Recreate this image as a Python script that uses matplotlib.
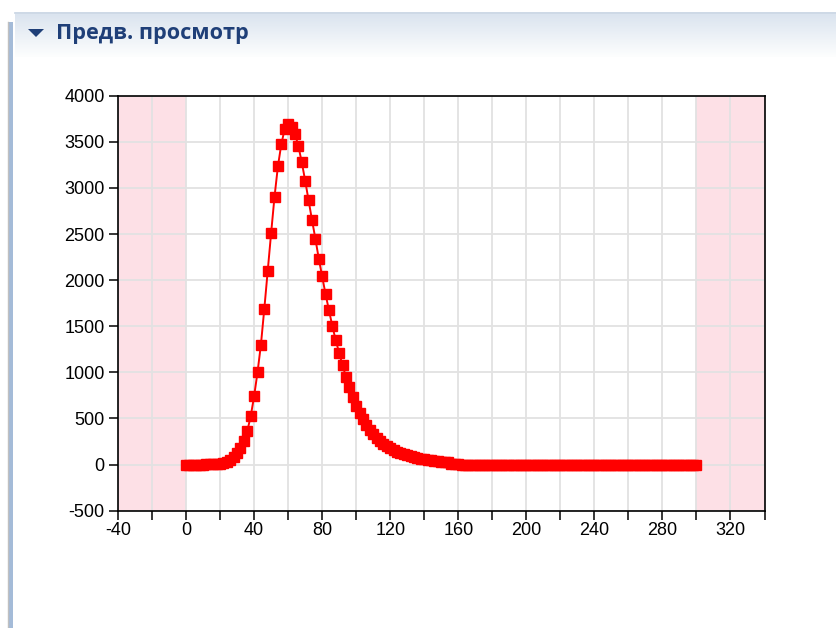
import numpy as np
import matplotlib
matplotlib.use("Agg")
import matplotlib.pyplot as plt
from matplotlib.colors import LinearSegmentedColormap
from matplotlib.lines import Line2D
from matplotlib.patches import Polygon, Rectangle

# data (one point every 2 units, 0..300)
x_vals = np.arange(0, 302, 2)
y_vals = [
    0, 0, 0, 0, 0, 0, 1, 2, 4, 6,
    10, 18, 32, 52, 82, 122, 178, 255, 365, 524,
    741, 1000, 1300, 1690, 2100, 2510, 2905, 3235, 3475, 3640,
    3690, 3665, 3590, 3455, 3280, 3080, 2866, 2655, 2451, 2234,
    2040, 1847, 1673, 1500, 1348, 1210, 1077, 950, 841, 735,
    640, 560, 490, 430, 375, 330, 290, 255, 225, 200,
    178, 158, 140, 125, 112, 100, 90, 80, 72, 64,
    57, 51, 46, 41, 37, 33, 29, 25, 5, 3,
    2, 0, 0, 0, 0, 0, 0, 0, 0, 0,
    0, 0, 0, 0, 0, 0, 0, 0, 0, 0,
    0, 0, 0, 0, 0, 0, 0, 0, 0, 0,
    0, 0, 0, 0, 0, 0, 0, 0, 0, 0,
    0, 0, 0, 0, 0, 0, 0, 0, 0, 0,
    0, 0, 0, 0, 0, 0, 0, 0, 0, 0,
    0, 0, 0, 0, 0, 0, 0, 0, 0, 0,
    0,
]
excluded = [(-40, 0), (300, 340)]
x_ticks = [-40, 0, 40, 80, 120, 160, 200, 240, 280, 320]
x_minor = [-20, 20, 60, 100, 140, 180, 220, 260, 300, 340]
y_ticks = [-500, 0, 500, 1000, 1500, 2000, 2500, 3000, 3500, 4000]
title = "Предв. просмотр"

plt.rcParams["font.family"] = ["Liberation Sans", "DejaVu Sans"]
plt.rcParams["axes.unicode_minus"] = False

W, H = 836, 628
fig = plt.figure(figsize=(W / 100, H / 100), dpi=100)

# panel header
hdr = fig.add_axes([15 / W, 1 - 57 / H, 1 - 15 / W, 43 / H])
cmap = LinearSegmentedColormap.from_list("hdr", ["#dbe4ef", "#fdfefe"])
hdr.imshow(np.linspace(0, 1, 100)[:, None], aspect="auto", cmap=cmap, extent=[0, 1, 0, 1])
hdr.axis("off")
fig.add_artist(Line2D([15 / W, 1], [1 - 13 / H] * 2, color="#c5d2e2", lw=1.2))
fig.add_artist(Rectangle((8.5 / W, 0), 4.5 / W, 1 - 22 / H, color="#a4bbd8", lw=0))
fig.add_artist(Line2D([7.5 / W] * 2, [0, 1 - 22 / H], color="#c0c0c0", lw=1))
tri = [(28, 29), (44, 29), (36, 37)]
fig.add_artist(Polygon([(px / W, 1 - py / H) for px, py in tri], closed=True,
                       color="#1f3f78", lw=0))
fig.text(56 / W, 1 - 33 / H, title, fontsize=15.6, fontweight="bold", color="#1f3f78",
         va="center", ha="left", family=["Open Sans", "DejaVu Sans"])

# chart
ax = fig.add_axes([118 / W, 1 - 510.7 / H, 646.5 / W, 415 / H])
for lo, hi in excluded:
    ax.axvspan(lo, hi, color="#fde0e6", lw=0)
ax.plot(x_vals, y_vals, color="red", lw=1.4, marker="s", ms=7, mec="red", zorder=3)

ax.set_xlim(-40, 340)
ax.set_ylim(-500, 4000)
ax.set_xticks(x_ticks)
ax.set_xticks(x_minor, minor=True)
ax.set_yticks(y_ticks)
ax.grid(True, which="both", color="#e2e2e2", lw=1.3)
ax.tick_params(which="both", direction="out", length=6.5, width=1.1, colors="black",
               labelsize=13)
ax.tick_params(axis="y", pad=3)
ax.tick_params(axis="x", pad=1.5)
for s in ax.spines.values():
    s.set_linewidth(1.2)

fig.savefig("out.png", dpi=100)
